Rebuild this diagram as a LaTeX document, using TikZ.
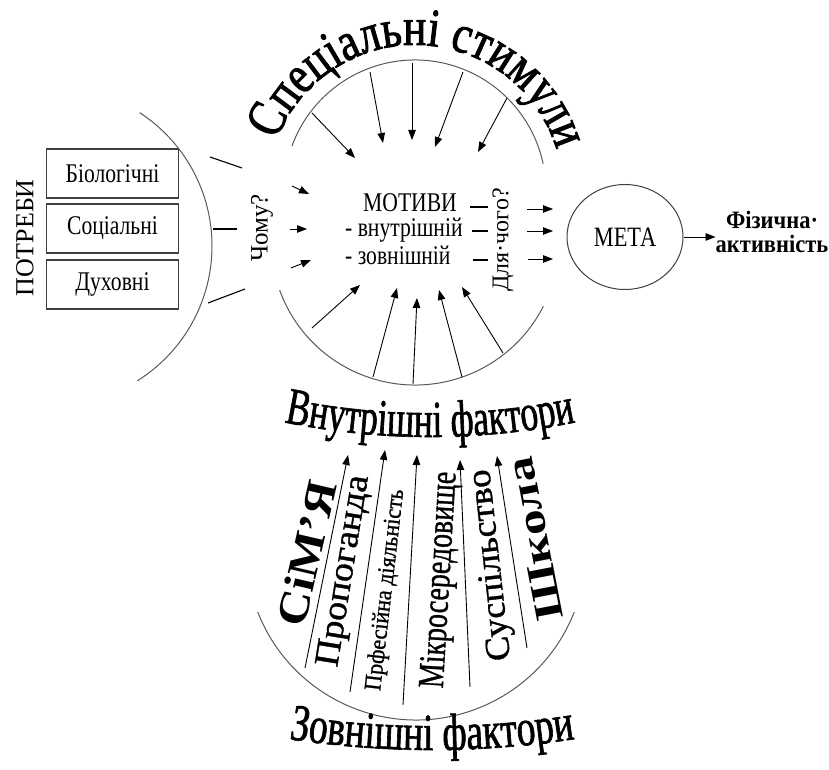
\documentclass[tikz,border=0pt]{standalone}
\usepackage{fontspec}
\usepackage{graphicx}
\setmainfont{Liberation Serif}
\newfontfamily\hfont{Liberation Serif}[FakeStretch=0.8]
\newfontfamily\fizfont{Liberation Serif}[FakeStretch=0.9]
\newfontfamily\toptitlefont{Liberation Serif}[FakeStretch=0.8,FakeBold=1.6]
\newfontfamily\midtitlefont{Liberation Serif}[FakeStretch=0.68,FakeBold=1.2]
\newfontfamily\lowtitlefont{Liberation Serif}[FakeStretch=0.72,FakeBold=1.2]
\newfontfamily\wordfont{Liberation Serif}[FakeBold=1]
\usetikzlibrary{decorations.text,shapes.geometric,arrows.meta}
\begin{document}
\begin{tikzpicture}[x=1pt,y=1pt,
  arcline/.style={draw=black!65,line width=1pt},
  arr/.style={-{Triangle[length=10pt,width=7.5pt]},line width=0.9pt},
  tickline/.style={line width=1.1pt},
  needbox/.style={draw=black!75,line width=1.1pt,minimum width=132pt,minimum height=49pt,inner sep=0pt,font=\hfont\fontsize{27}{30}\selectfont},
  htext/.style={inner sep=0pt,font=\hfont\fontsize{27}{30}\selectfont},
  vtext/.style={inner sep=0pt,rotate=90}]
\useasboundingbox (0,0) rectangle (829,769);

% arcs
\draw[arcline] (53,523) ++(-58:159) arc[start angle=-58,end angle=57,radius=159];
\draw[arcline] (415,578) ++(160:131) arc[start angle=160,end angle=12,radius=131];
\draw[arcline] (415,528) ++(200:144) arc[start angle=200,end angle=333,radius=144];
\draw[arcline] (416,219) ++(201.4:170) arc[start angle=201.4,end angle=338.6,radius=170];

% titles along arcs
\path[decorate,decoration={text along path,text align=center,
  text={|\toptitlefont\fontsize{54}{54}\selectfont|Спеціальні стимули}}]
  (415,576) ++(175:148) arc[start angle=175,end angle=1,radius=148];
\path[decorate,decoration={text along path,text align=center,
  text={|\midtitlefont\fontsize{52}{52}\selectfont|Внутрішні фактори}}]
  (430,1060) ++(250:728) arc[start angle=250,end angle=290,radius=728];
\path[decorate,decoration={text along path,text align=center,
  text={|\lowtitlefont\fontsize{52}{52}\selectfont|Зовнішні фактори}}]
  (432,954) ++(255:935) arc[start angle=255,end angle=285,radius=935];

% needs
\node[vtext,font=\fontsize{26}{26}\selectfont] (potreby) at (25,531) {ПОТРЕБИ};
\node[needbox] (bio) at (112.5,595.5) {Біологічні};
\node[needbox] (soc) at (112.5,540.5) {Соціальні};
\node[needbox] (duh) at (112.5,484.5) {Духовні};

\coordinate (d1a) at (210,612); \coordinate (d1b) at (242,601);
\coordinate (d2a) at (213,540); \coordinate (d2b) at (237,540);
\coordinate (d3a) at (208,466); \coordinate (d3b) at (245,480);
\draw[tickline] (d1a) -- (d1b);
\draw[tickline] (d2a) -- (d2b);
\draw[tickline] (d3a) -- (d3b);

\node[vtext,font=\fontsize{25}{25}\selectfont] (chomu) at (262,541) {Чому?};
\coordinate (l1a) at (292,583); \coordinate (l1b) at (309,575);
\coordinate (l2a) at (290,540); \coordinate (l2b) at (307,540);
\coordinate (l3a) at (291,501); \coordinate (l3b) at (311,509);
\draw[arr] (l1a) -- (l1b);
\draw[arr] (l2a) -- (l2b);
\draw[arr] (l3a) -- (l3b);

% motives
\node[htext,anchor=base] (motivy) at (410,557) {МОТИВИ};
\node[htext,anchor=base west] (vnutr) at (345,532) {- внутрішній};
\node[htext,anchor=base west] (zovn) at (345,504) {- зовнішній};

\coordinate (r1a) at (470,562); \coordinate (r1b) at (488,562);
\coordinate (r2a) at (472,538); \coordinate (r2b) at (488,538);
\coordinate (r3a) at (473,509); \coordinate (r3b) at (488,509);
\draw[tickline] (r1a) -- (r1b);
\draw[tickline] (r2a) -- (r2b);
\draw[tickline] (r3a) -- (r3b);

\node[vtext,font=\fontsize{24}{24}\selectfont] (dlya) at (503,529) {Для·чого?};
\coordinate (q1a) at (527,560); \coordinate (q1b) at (553,560);
\coordinate (q2a) at (527,538); \coordinate (q2b) at (553,538);
\coordinate (q3a) at (528,510); \coordinate (q3b) at (553,510);
\draw[arr] (q1a) -- (q1b);
\draw[arr] (q2a) -- (q2b);
\draw[arr] (q3a) -- (q3b);

% goal
\node[draw=black!75,line width=1pt,ellipse,minimum width=116pt,minimum height=105pt,inner sep=0pt,
  font=\hfont\fontsize{28}{30}\selectfont] (meta) at (625,532) {МЕТА};
\node[inner sep=0pt,align=center,font=\fizfont\bfseries\fontsize{25}{24}\selectfont] (fiz) at (772,537) {Фізична·\\активність};
\draw[arr] (meta.east) -- (fiz.west |- meta.east);

% special stimuli arrows
\coordinate (t1a) at (312,656); \coordinate (t1b) at (355,611);
\coordinate (t2a) at (370,697); \coordinate (t2b) at (383,626);
\coordinate (t3a) at (412,706); \coordinate (t3b) at (412,629);
\coordinate (t4a) at (463,697); \coordinate (t4b) at (435,622);
\coordinate (t5a) at (507,671); \coordinate (t5b) at (478,617);
\foreach \i in {1,...,5} {\draw[arr] (t\i a) -- (t\i b);}

% internal factor arrows
\coordinate (b1a) at (312,441); \coordinate (b1b) at (360,484);
\coordinate (b2a) at (373,392); \coordinate (b2b) at (397,481);
\coordinate (b3a) at (413,385); \coordinate (b3b) at (417,471);
\coordinate (b4a) at (462,392); \coordinate (b4b) at (439,479);
\coordinate (b5a) at (503,416); \coordinate (b5b) at (462,482);
\foreach \i in {1,...,5} {\draw[arr] (b\i a) -- (b\i b);}

% external factor arrows
\coordinate (e1a) at (305,101); \coordinate (e1b) at (348,314);
\coordinate (e2a) at (350,77);  \coordinate (e2b) at (385,319);
\coordinate (e3a) at (403,64);  \coordinate (e3b) at (417,314);
\coordinate (e4a) at (470,82);  \coordinate (e4b) at (460,309);
\coordinate (e5a) at (527,121); \coordinate (e5b) at (497,313);
\foreach \i in {1,...,5} {\draw[arr] (e\i a) -- (e\i b);}

% external factors words
\node[inner sep=0pt,rotate=77] (w1) at (307,216) {\scalebox{1.2}[1.05]{\fontsize{41}{41}\selectfont\bfseries СіМ’Я}};
\node[inner sep=0pt,rotate=80.8] (w2) at (345,198) {\scalebox{1.15}[1.05]{\wordfont\fontsize{33}{33}\selectfont Пропоганда}};
\node[inner sep=0pt,rotate=83.4] (w3) at (386,179) {\scalebox{0.92}[1]{\wordfont\fontsize{24}{24}\selectfont Прфесійна діяльність}};
\node[inner sep=0pt,rotate=86.6] (w4) at (441,189) {\scalebox{0.8}[1.05]{\wordfont\fontsize{35}{35}\selectfont Мікросередовище}};
\node[inner sep=0pt,rotate=96.3] (w5) at (492,204) {\scalebox{1.12}[1.05]{\wordfont\fontsize{33}{33}\selectfont Суспільство}};
\node[inner sep=0pt,rotate=100.9] (w6) at (535,230) {\scalebox{1.35}[1.05]{\fontsize{38}{38}\selectfont\bfseries Школа}};
\end{tikzpicture}
\end{document}
